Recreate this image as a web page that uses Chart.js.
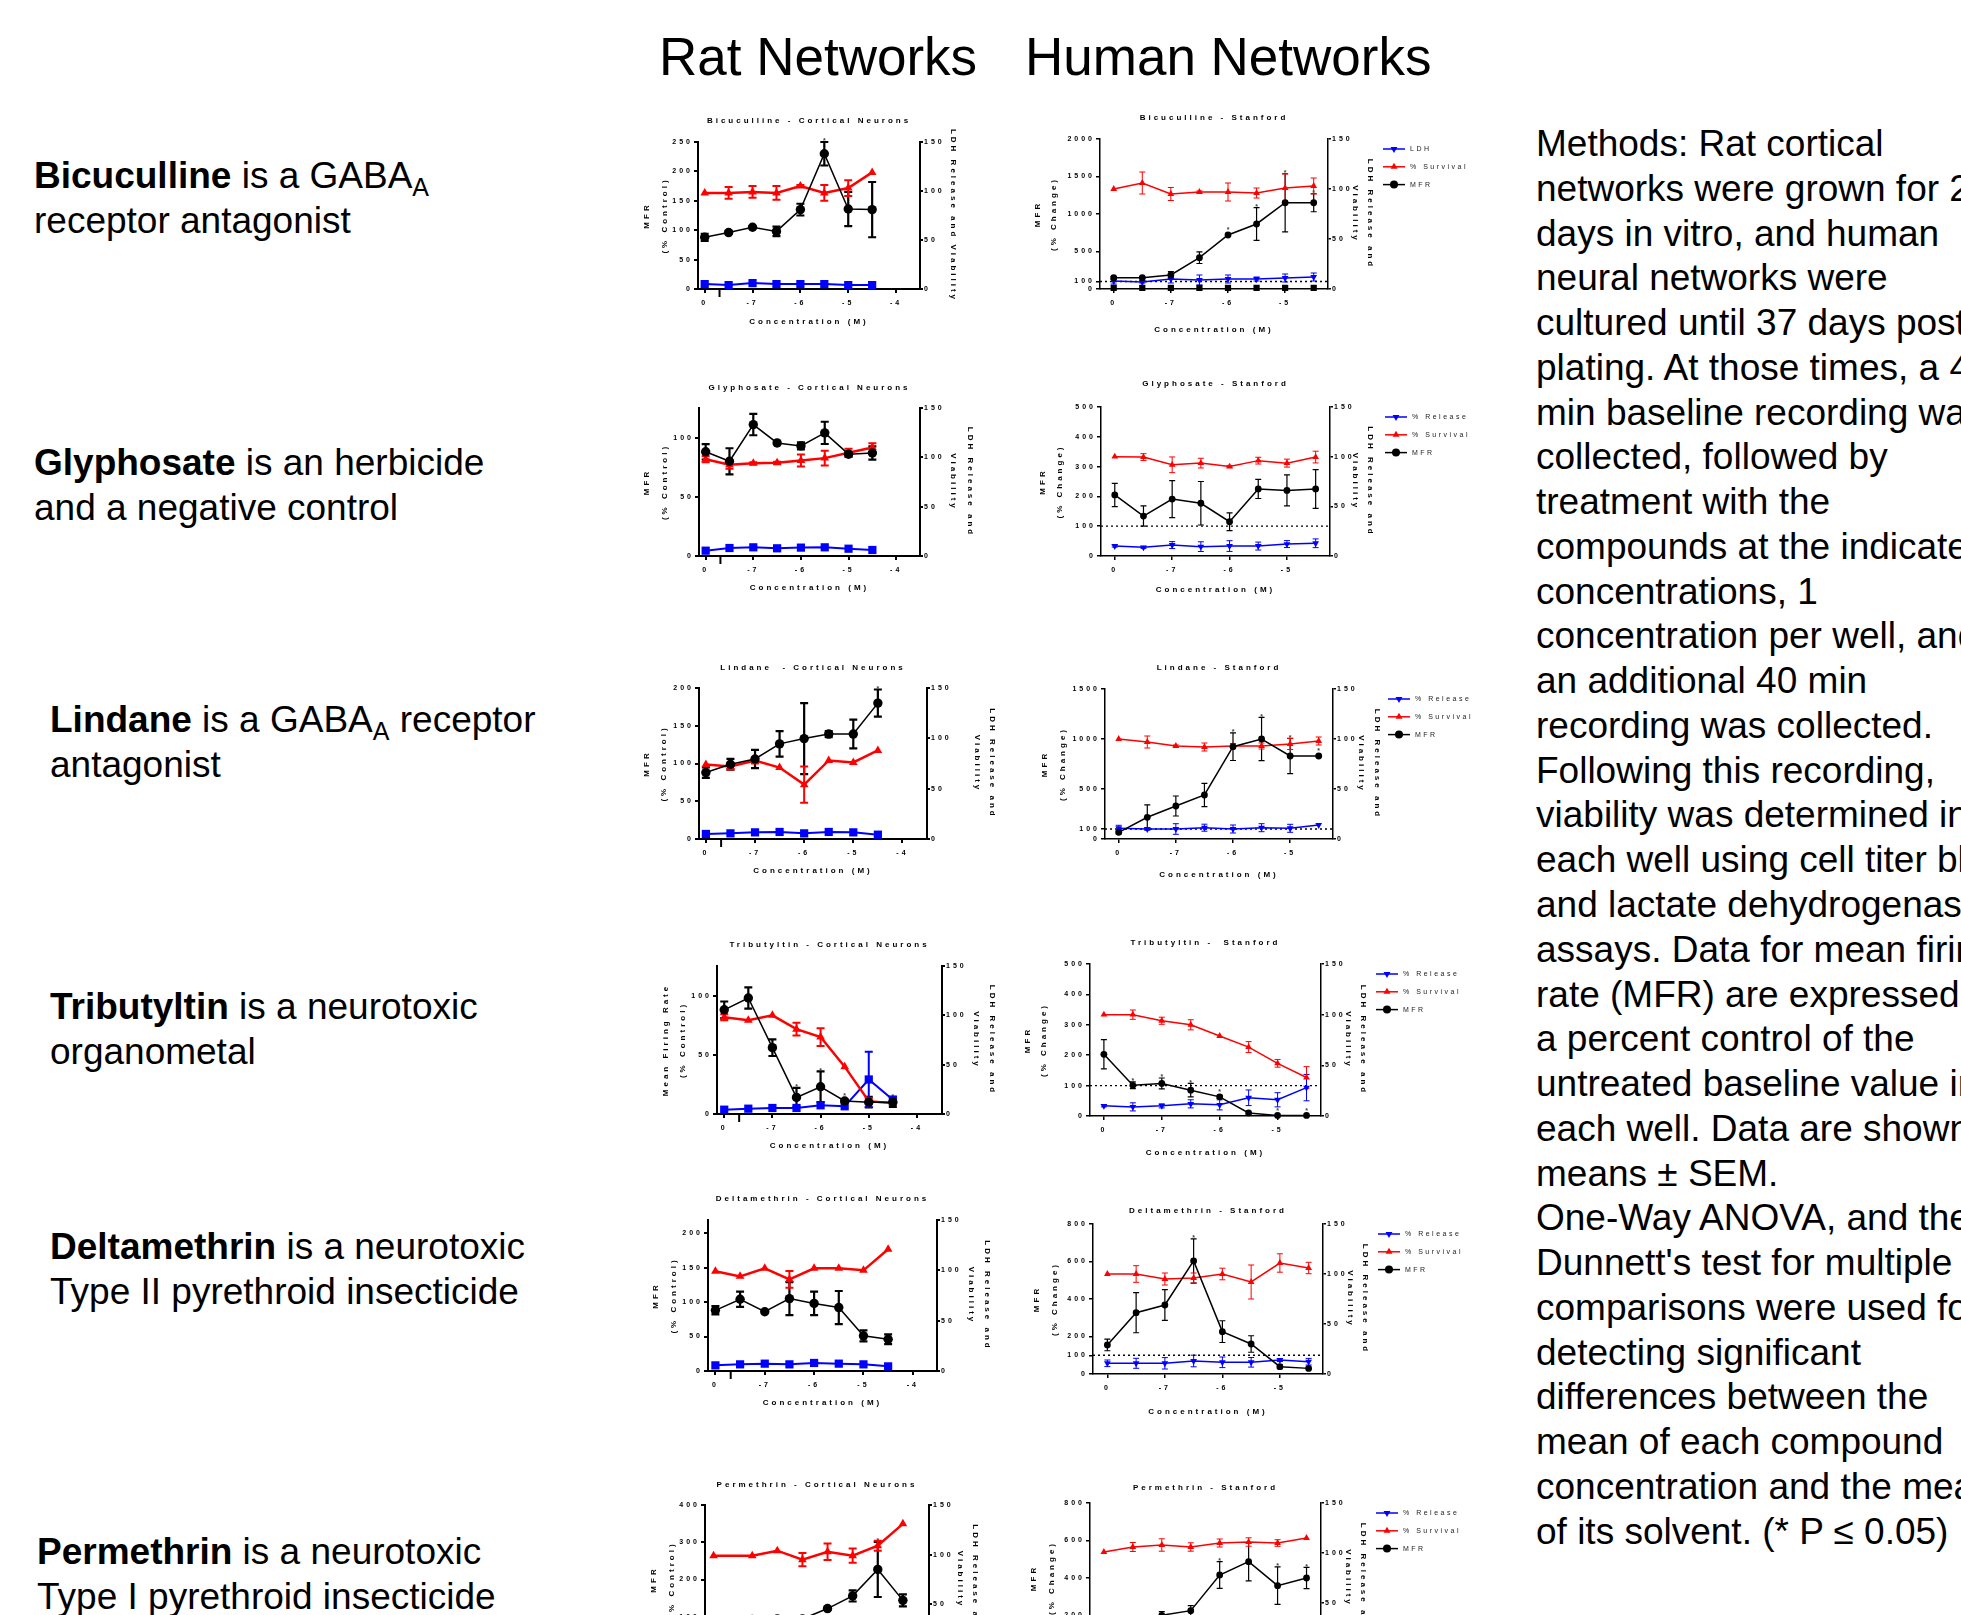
<!DOCTYPE html>
<html>
<head>
<meta charset="utf-8">
<script src="https://cdn.jsdelivr.net/npm/chart.js"></script>
<style>
html, body { margin: 0; padding: 0; background: #fff; }
body { width: 1961px; height: 1615px; overflow: hidden; position: relative; font-family: 'Liberation Sans', Arial, sans-serif; color: #000; }
.hdr { position: absolute; font-size: 53px; line-height: 60px; white-space: nowrap; }
.lbl { position: absolute; font-size: 37px; line-height: 45px; white-space: nowrap; }
.lbl sub { font-size: 25px; line-height: 0; vertical-align: -8px; }
#methods { position: absolute; left: 1536px; top: 122px; font-size: 37px; line-height: 44.76px; white-space: nowrap; }
canvas { position: absolute; }
</style>
</head>
<body>
<div class="hdr" style="left:659px;top:27px">Rat Networks</div>
<div class="hdr" style="left:1025px;top:27px">Human Networks</div>

<div class="lbl" style="left:34px;top:153px"><b>Bicuculline</b> is a GABA<sub>A</sub><br>receptor antagonist</div>
<div class="lbl" style="left:34px;top:440px"><b>Glyphosate</b> is an herbicide<br>and a negative control</div>
<div class="lbl" style="left:50px;top:697px"><b>Lindane</b> is a GABA<sub>A</sub> receptor<br>antagonist</div>
<div class="lbl" style="left:50px;top:984px"><b>Tributyltin</b> is a neurotoxic<br>organometal</div>
<div class="lbl" style="left:50px;top:1224px"><b>Deltamethrin</b> is a neurotoxic<br>Type II pyrethroid insecticide</div>
<div class="lbl" style="left:37px;top:1529px"><b>Permethrin</b> is a neurotoxic<br>Type I pyrethroid insecticide</div>

<div id="methods">Methods: Rat cortical<br>networks were grown for 21<br>days in vitro, and human<br>neural networks were<br>cultured until 37 days post<br>plating. At those times, a 40<br>min baseline recording was<br>collected, followed by<br>treatment with the<br>compounds at the indicated<br>concentrations, 1<br>concentration per well, and<br>an additional 40 min<br>recording was collected.<br>Following this recording,<br>viability was determined in<br>each well using cell titer blue<br>and lactate dehydrogenase<br>assays. Data for mean firing<br>rate (MFR) are expressed as<br>a percent control of the<br>untreated baseline value in<br>each well. Data are shown as<br>means ± SEM.<br>One-Way ANOVA, and then<br>Dunnett's test for multiple<br>comparisons were used for<br>detecting significant<br>differences between the<br>mean of each compound<br>concentration and the mean<br>of its solvent. (* P ≤ 0.05)</div>

<script>
// concentrations (log M) - the untreated control is plotted at the "0" tick
const concRat = [-8, -7.5, -7, -6.5, -6, -5.5, -5, -4.5];
const concRatPerm = [-8.27, -7.5, -7, -6.5, -6, -5.5, -5, -4.5];
const concHum = [-8, -7.5, -7, -6.5, -6, -5.5, -5, -4.5];
const xTicksRat = [-8, -7, -6, -5, -4];
const xTicksRatPerm = [-8.27, -7, -6, -5, -4];
const xTicksHum = [-8, -7, -6, -5];
const rightTicks = [0, 50, 100, 150];

// Bicuculline
const bicRatMfr = [88, 96, 105, 98, 135, 230, 136, 135];
const bicRatMfrErr = [6, 2, 2, 8, 10, 20, 29, 47];
const bicRatSurv = [98, 98, 99, 98, 105, 98, 103, 119];
const bicRatSurvErr = [0, 6, 6, 7, 1, 8, 8, 0];
const bicRatLdh = [5, 4, 6, 5, 5, 5, 4, 4];
const bicRatStars = [5];
const yTicksBicRat = [0, 50, 100, 150, 200, 250];

const bicHumMfr = [151, 151, 187, 418, 720, 867, 1150, 1150];
const bicHumMfrErr = [15, 10, 44, 78, 20, 218, 387, 120];
const bicHumSurv = [100, 106, 95, 97, 97, 96, 101, 103];
const bicHumSurvErr = [0, 11, 6.5, 1, 9, 5, 14, 8];
const bicHumLdh = [8, 7, 10, 9, 10, 10, 11, 12];
const bicHumLdhErr = [3, 1, 4, 5, 4, 2, 4, 4];
const bicHumBase = [15, 15, 15, 15, 15, 15, 15, 15];
const bicHumStars = [4, 5, 6, 7];
const yTicksBicHum = [0, 100, 500, 1000, 1500, 2000];

// Glyphosate
const glyRatMfr = [88, 80, 111, 95.5, 93, 104, 86, 87];
const glyRatMfrErr = [6.5, 11, 9, 1, 3, 9.4, 2, 5.6];
const glyRatSurv = [98, 92.4, 94, 94.5, 96.8, 99.2, 104.6, 110];
const glyRatSurvErr = [3, 4, 1, 1, 6, 7.4, 4, 4.4];
const glyRatLdh = [5.4, 8.1, 8.8, 7.8, 8.5, 8.8, 7.4, 6.1];
const yTicksGlyRat = [0, 50, 100];

const glyHumMfr = [205, 134, 191, 177, 115, 225, 220, 225];
const glyHumMfrErr = [39, 34, 62, 73, 30, 32, 52, 65];
const glyHumSurv = [100, 99.6, 91.8, 93.5, 90, 96, 93.5, 99.6];
const glyHumSurvErr = [0, 3.4, 7.9, 4.9, 1, 3.4, 4, 5.9];
const glyHumLdh = [10, 8.7, 11, 9.4, 10, 10, 12, 12.8];
const glyHumLdhErr = [1, 1, 3.5, 4.9, 5.4, 4, 3.5, 4.4];
const yTicksGlyHum = [0, 100, 200, 300, 400, 500];

// Lindane
const linRatMfr = [88, 99, 106, 126, 133, 139, 139, 180];
const linRatMfrErr = [7, 7, 12, 17, 47, 4, 19, 18];
const linRatSurv = [74, 72, 78, 71, 54, 78, 76, 88];
const linRatSurvErr = [0, 3, 3, 0, 18, 0, 0, 0];
const linRatLdh = [5, 5.6, 6.6, 7, 5.6, 7, 6.6, 4.3];
const linRatStars = [7];
const yTicksLinRat = [0, 50, 100, 150, 200];

const linHumMfr = [67, 217, 330, 440, 923, 1000, 830, 830];
const linHumMfrErr = [15, 125, 100, 117, 138, 217, 177, 10];
const linHumSurv = [100, 97, 93, 92, 93, 93, 95, 98];
const linHumSurvErr = [0, 6, 1, 4, 2.5, 3, 5.5, 4];
const linHumLdh = [10.7, 10, 10, 11.3, 10, 11.3, 10.7, 14];
const linHumLdhErr = [3, 1, 5.3, 3.5, 4, 4, 4, 0];
const linHumStars = [4, 5, 6, 7];
const yTicksLinHum = [0, 100, 500, 1000, 1500];

// Tributyltin
const tbtRatMfr = [88, 98, 56, 14, 23, 11, 10, 10];
const tbtRatMfrErr = [7, 9, 7, 8, 13, 1, 4.5, 4];
const tbtRatSurv = [98, 95, 100, 86, 78, 48, 13, 11];
const tbtRatSurvErr = [3, 0, 0, 6.4, 9, 0, 3, 2];
const tbtRatLdh = [4.4, 5.4, 6.1, 6.1, 8.8, 7.8, 35, 14.5];
const tbtRatLdhErr = [0, 0, 0, 0, 0, 0, 28, 3];
const tbtRatStars = [3, 4, 5, 7];
const yTicksTbtRat = [0, 50, 100];

const tbtHumMfr = [203, 101, 107, 85, 63, 10, 2, 2];
const tbtHumMfrErr = [48, 11, 18, 22, 5, 0, 0, 0];
const tbtHumSurv = [100, 100, 94, 90, 79, 68, 52, 38];
const tbtHumSurvErr = [0, 4.6, 3.5, 5, 0, 5.4, 3.8, 10.7];
const tbtHumLdh = [10, 9, 10, 12, 11, 18, 16, 28];
const tbtHumLdhErr = [1, 4, 2, 4, 5, 7.7, 7, 13];
const tbtHumStars = [1, 2, 3, 4, 6, 7];
const yTicksTbtHum = [0, 100, 200, 300, 400, 500];

// Deltamethrin
const delRatMfr = [88, 104, 86, 105, 98, 92, 51, 46];
const delRatMfrErr = [6, 11, 0, 24, 17, 24, 8, 7];
const delRatSurv = [99, 94, 102, 91, 102, 102, 100, 121];
const delRatSurvErr = [0, 0, 0, 8.3, 0, 0, 0, 0];
const delRatLdh = [5.6, 6.6, 7.3, 6.6, 8, 7.3, 6.6, 4.6];
const yTicksDelRat = [0, 50, 100, 150, 200];

const delHumMfr = [155, 327, 368, 603, 226, 160, 39, 30];
const delHumMfrErr = [31, 107, 82, 118, 58, 44, 10, 0];
const delHumSurv = [100, 100, 95, 96, 100, 92, 111, 106];
const delHumSurvErr = [0, 8.3, 6, 5, 5.8, 17, 9.2, 5.7];
const delHumLdh = [10.7, 10.7, 10.7, 13, 11.7, 11.7, 14, 12.3];
const delHumLdhErr = [3.3, 5, 5.7, 5.8, 5.3, 4.8, 1.5, 3.3];
const delHumStars = [3];
const yTicksDelHum = [0, 100, 200, 400, 600, 800];

// Permethrin
const perRatMfr = [88, 93, 94, 94, 122, 156, 227, 144];
const perRatMfrErr = [5, 3, 3, 3, 3, 15, 74, 16];
const perRatSurv = [99, 99, 104, 95, 103, 99, 109, 131];
const perRatSurvErr = [0, 0, 0, 6.7, 8.3, 7.2, 5, 0];
const perRatLdh = [5, 5, 6, 6, 6, 6, 6, 5];
const perRatStars = [6];
const yTicksPerRat = [0, 100, 200, 300, 400];

const perHumMfr = [150, 160, 201, 226, 416, 487, 359, 400];
const perHumMfrErr = [20, 20, 20, 27, 71, 102, 100, 57];
const perHumSurv = [101, 106, 108, 106, 110, 111, 110, 115];
const perHumSurvErr = [0, 4.5, 6.2, 4.2, 4, 4.2, 3.3, 0];
const perHumLdh = [10, 10, 10, 10, 10, 10, 10, 10];
const perHumStars = [4, 6, 7];
const yTicksPerHum = [0, 100, 200, 400, 600, 800];

// page placement of every panel: plot area (l,r,t,b), title line, axis title lines
const boxes = {
  c1:  {l: 698,  r: 920,  t: 142,  b: 289,  ty: 121,  yx: 647,  lhL: 18,   rx: 953,  lhR: 17,   xy: 322,  xMin: -8.14, xMax: -3.5},
  c2:  {l: 1100, r: 1328, t: 139,  b: 289,  ty: 118,  yx: 1037, lhL: 16.7, rx: 1370, lhR: 15,   xy: 330,  xMin: -8.24, xMax: -4.25},
  c3:  {l: 699,  r: 920,  t: 408,  b: 556,  ty: 388,  yx: 647,  lhL: 18,   rx: 970,  lhR: 17,   xy: 588,  xMin: -8.14, xMax: -3.5},
  c4:  {l: 1101, r: 1330, t: 407,  b: 556,  ty: 384,  yx: 1043, lhL: 17.4, rx: 1370, lhR: 15,   xy: 590,  xMin: -8.24, xMax: -4.25},
  c5:  {l: 699,  r: 927,  t: 688,  b: 839,  ty: 668,  yx: 647,  lhL: 17.3, rx: 992,  lhR: 15,   xy: 871,  xMin: -8.14, xMax: -3.5},
  c6:  {l: 1105, r: 1333, t: 689,  b: 839,  ty: 668,  yx: 1045, lhL: 17.7, rx: 1377, lhR: 16,   xy: 875,  xMin: -8.24, xMax: -4.25},
  c7:  {l: 717,  r: 942,  t: 966,  b: 1114, ty: 945,  yx: 666,  lhL: 17.3, rx: 993,  lhR: 16.6, xy: 1146, xMin: -8.15, xMax: -3.48},
  c8:  {l: 1090, r: 1321, t: 964,  b: 1116, ty: 943,  yx: 1027, lhL: 16.6, rx: 1363, lhR: 15,   xy: 1153, xMin: -8.24, xMax: -4.25},
  c9:  {l: 708,  r: 937,  t: 1220, b: 1371, ty: 1199, yx: 656,  lhL: 18,   rx: 988,  lhR: 16.6, xy: 1403, xMin: -8.15, xMax: -3.51},
  c10: {l: 1093, r: 1323, t: 1224, b: 1374, ty: 1211, yx: 1037, lhL: 17.7, rx: 1365, lhR: 15,   xy: 1412, xMin: -8.25, xMax: -4.25},
  c11: {l: 705,  r: 929,  t: 1505, b: 1654, ty: 1485, yx: 654,  lhL: 17.7, rx: 975,  lhR: 15,   xy: 1687, xMin: -8.44, xMax: -3.98},
  c12: {l: 1090, r: 1321, t: 1503, b: 1653, ty: 1488, yx: 1034, lhL: 17.7, rx: 1363, lhR: 15,   xy: 1690, xMin: -8.24, xMax: -4.25}
};

const ratStyle = {axis: 2, mfrW: 1.5, survW: 2.5, ldhW: 2, circ: 4.7, tri: 5, ldhR: 5.8, errW: 2, cap: 4};
const humStyle = {axis: 1.5, mfrW: 1.5, survW: 1.5, ldhW: 1.5, circ: 3.4, tri: 3.9, ldhR: 3.9, errW: 1, cap: 3};

const RAT_Y = ['MFR', '(% Control)'];
const HUM_Y = ['MFR', '(% Change)'];
const RIGHT_T = ['LDH Release and', 'Viability'];

const panels = [
  {id: 'c1', title: 'Bicuculline - Cortical Neurons', conc: concRat, xTicks: xTicksRat, yMax: 250, yTicks: yTicksBicRat, yTitle: RAT_Y, rTitle: 'LDH Release and Viability',
   mfr: bicRatMfr, mfrErr: bicRatMfrErr, surv: bicRatSurv, survErr: bicRatSurvErr, ldh: bicRatLdh, ldhErr: null, stars: bicRatStars},
  {id: 'c2', human: true, title: 'Bicuculline - Stanford', conc: concHum, xTicks: xTicksHum, yMax: 2000, yTicks: yTicksBicHum, yTitle: HUM_Y, rTitle: RIGHT_T, ldhLabel: 'LDH',
   mfr: bicHumMfr, mfrErr: bicHumMfrErr, surv: bicHumSurv, survErr: bicHumSurvErr, ldh: bicHumLdh, ldhErr: bicHumLdhErr, stars: bicHumStars, base: bicHumBase},
  {id: 'c3', title: 'Glyphosate - Cortical Neurons', conc: concRat, xTicks: xTicksRat, yMax: 125, yTicks: yTicksGlyRat, yTitle: RAT_Y, rTitle: RIGHT_T,
   mfr: glyRatMfr, mfrErr: glyRatMfrErr, surv: glyRatSurv, survErr: glyRatSurvErr, ldh: glyRatLdh, ldhErr: null, stars: []},
  {id: 'c4', human: true, title: 'Glyphosate - Stanford', conc: concHum, xTicks: xTicksHum, yMax: 500, yTicks: yTicksGlyHum, yTitle: HUM_Y, rTitle: RIGHT_T, ldhLabel: '% Release',
   mfr: glyHumMfr, mfrErr: glyHumMfrErr, surv: glyHumSurv, survErr: glyHumSurvErr, ldh: glyHumLdh, ldhErr: glyHumLdhErr, stars: []},
  {id: 'c5', title: 'Lindane  - Cortical Neurons', conc: concRat, xTicks: xTicksRat, yMax: 200, yTicks: yTicksLinRat, yTitle: RAT_Y, rTitle: RIGHT_T,
   mfr: linRatMfr, mfrErr: linRatMfrErr, surv: linRatSurv, survErr: linRatSurvErr, ldh: linRatLdh, ldhErr: null, stars: linRatStars},
  {id: 'c6', human: true, title: 'Lindane - Stanford', conc: concHum, xTicks: xTicksHum, yMax: 1500, yTicks: yTicksLinHum, yTitle: HUM_Y, rTitle: RIGHT_T, ldhLabel: '% Release',
   mfr: linHumMfr, mfrErr: linHumMfrErr, surv: linHumSurv, survErr: linHumSurvErr, ldh: linHumLdh, ldhErr: linHumLdhErr, stars: linHumStars},
  {id: 'c7', title: 'Tributyltin - Cortical Neurons', conc: concRat, xTicks: xTicksRat, yMax: 125, yTicks: yTicksTbtRat, yTitle: ['Mean Firing Rate', '(% Control)'], rTitle: RIGHT_T,
   mfr: tbtRatMfr, mfrErr: tbtRatMfrErr, surv: tbtRatSurv, survErr: tbtRatSurvErr, ldh: tbtRatLdh, ldhErr: tbtRatLdhErr, stars: tbtRatStars},
  {id: 'c8', human: true, title: 'Tributyltin -  Stanford', conc: concHum, xTicks: xTicksHum, yMax: 500, yTicks: yTicksTbtHum, yTitle: HUM_Y, rTitle: RIGHT_T, ldhLabel: '% Release',
   mfr: tbtHumMfr, mfrErr: tbtHumMfrErr, surv: tbtHumSurv, survErr: tbtHumSurvErr, ldh: tbtHumLdh, ldhErr: tbtHumLdhErr, stars: tbtHumStars},
  {id: 'c9', title: 'Deltamethrin - Cortical Neurons', conc: concRat, xTicks: xTicksRat, yMax: 219, yTicks: yTicksDelRat, yTitle: RAT_Y, rTitle: RIGHT_T,
   mfr: delRatMfr, mfrErr: delRatMfrErr, surv: delRatSurv, survErr: delRatSurvErr, ldh: delRatLdh, ldhErr: null, stars: []},
  {id: 'c10', human: true, title: 'Deltamethrin - Stanford', conc: concHum, xTicks: xTicksHum, yMax: 800, yTicks: yTicksDelHum, yTitle: HUM_Y, rTitle: RIGHT_T, ldhLabel: '% Release',
   mfr: delHumMfr, mfrErr: delHumMfrErr, surv: delHumSurv, survErr: delHumSurvErr, ldh: delHumLdh, ldhErr: delHumLdhErr, stars: delHumStars},
  {id: 'c11', title: 'Permethrin - Cortical Neurons', conc: concRatPerm, xTicks: xTicksRatPerm, yMax: 400, yTicks: yTicksPerRat, yTitle: RAT_Y, rTitle: RIGHT_T,
   mfr: perRatMfr, mfrErr: perRatMfrErr, surv: perRatSurv, survErr: perRatSurvErr, ldh: perRatLdh, ldhErr: null, stars: perRatStars},
  {id: 'c12', human: true, title: 'Permethrin - Stanford', conc: concHum, xTicks: xTicksHum, yMax: 800, yTicks: yTicksPerHum, yTitle: HUM_Y, rTitle: RIGHT_T, ldhLabel: '% Release',
   mfr: perHumMfr, mfrErr: perHumMfrErr, surv: perHumSurv, survErr: perHumSurvErr, ldh: perHumLdh, ldhErr: null, stars: perHumStars}
];

Chart.defaults.font.family = "'Liberation Sans', Arial, sans-serif";
Chart.defaults.color = '#000';

// wide tracking like the original Prism export
const spacing = {
  id: 'spacing',
  beforeUpdate(chart) { chart.ctx.letterSpacing = '3px'; },
  beforeDraw(chart) { chart.ctx.letterSpacing = '3px'; }
};

// mean +/- SEM bars, and the * marks above them
const errorBars = {
  id: 'errorBars',
  beforeDatasetsDraw(chart) {
    const ctx = chart.ctx;
    chart.data.datasets.forEach(function (ds, i) {
      if (!ds.errors && !ds.stars) return;
      const ys = chart.scales[ds.yAxisID];
      const meta = chart.getDatasetMeta(i);
      ctx.save();
      ctx.strokeStyle = ds.borderColor;
      ctx.lineWidth = ds.errWidth;
      if (ds.errors) {
        meta.data.forEach(function (pt, j) {
          const e = ds.errors[j];
          if (!e) return;
          const v = ds.data[j].y;
          const y1 = ys.getPixelForValue(v + e);
          const y2 = ys.getPixelForValue(Math.max(v - e, 0));
          ctx.beginPath();
          ctx.moveTo(pt.x, y1); ctx.lineTo(pt.x, y2);
          ctx.moveTo(pt.x - ds.cap, y1); ctx.lineTo(pt.x + ds.cap, y1);
          ctx.moveTo(pt.x - ds.cap, y2); ctx.lineTo(pt.x + ds.cap, y2);
          ctx.stroke();
        });
      }
      if (ds.stars) {
        ctx.fillStyle = '#444';
        ctx.font = "bold 7px 'Liberation Sans', Arial, sans-serif";
        ctx.textAlign = 'center';
        ctx.textBaseline = 'bottom';
        ds.stars.forEach(function (j) {
          const pt = meta.data[j];
          const e = ds.errors ? (ds.errors[j] || 0) : 0;
          const top = Math.min(ys.getPixelForValue(ds.data[j].y + e), pt.y - 4);
          ctx.fillText('*', pt.x + 1.5, top + 3);
        });
      }
      ctx.restore();
    });
  }
};

// break mark on the rat concentration axis
const axisBreak = {
  id: 'axisBreak',
  afterDraw(chart, args, opts) {
    if (opts.at == null) return;
    const ctx = chart.ctx;
    const x = chart.scales.x.getPixelForValue(opts.at);
    const b = chart.chartArea.bottom;
    ctx.save();
    ctx.strokeStyle = '#000';
    ctx.lineWidth = 2;
    ctx.beginPath();
    ctx.moveTo(x, b - 1);
    ctx.lineTo(x, b + 8);
    ctx.stroke();
    ctx.restore();
  }
};

function drawMarker(ctx, shape, x, y, r, rot) {
  ctx.beginPath();
  if (shape === 'circle') {
    ctx.arc(x, y, r, 0, Math.PI * 2);
  } else {
    let a = rot ? Math.PI : 0;
    for (let k = 0; k < 3; k++) {
      const px = x + Math.sin(a) * r, py = y - Math.cos(a) * r;
      if (k === 0) ctx.moveTo(px, py); else ctx.lineTo(px, py);
      a += Math.PI * 2 / 3;
    }
    ctx.closePath();
  }
  ctx.fill();
}

// legend to the right of the human panels
const sideLegend = {
  id: 'sideLegend',
  afterDraw(chart, args, opts) {
    if (!opts.show) return;
    const ctx = chart.ctx;
    const area = chart.chartArea;
    const items = chart.data.datasets.filter(ds => ds.legendText).sort((a, b) => a.legendRank - b.legendRank);
    ctx.save();
    ctx.letterSpacing = '2.5px';
    items.forEach(function (ds, k) {
      const y = area.top + opts.dy + k * opts.gap;
      const x0 = area.right + opts.dx;
      ctx.strokeStyle = ds.borderColor;
      ctx.fillStyle = ds.borderColor;
      ctx.lineWidth = 1.5;
      ctx.beginPath();
      ctx.moveTo(x0, y);
      ctx.lineTo(x0 + 22, y);
      ctx.stroke();
      drawMarker(ctx, ds.pointStyle, x0 + 11, y, 4, ds.pointRotation);
      ctx.fillStyle = '#222';
      ctx.font = "7px 'Liberation Sans', Arial, sans-serif";
      ctx.textAlign = 'left';
      ctx.textBaseline = 'middle';
      ctx.fillText(ds.legendText, x0 + 27, y);
    });
    ctx.restore();
  }
};

function pts(conc, vals) {
  return conc.map((x, i) => ({x: x, y: vals[i]}));
}

function fixSize(prop, size) {
  return function (s) {
    s[prop] = size;
    s.paddingLeft = 0; s.paddingRight = 0; s.paddingTop = 0; s.paddingBottom = 0;
  };
}

function makeChart(c) {
  const g = boxes[c.id];
  const st = c.human ? humStyle : ratStyle;
  const legendPad = c.human ? 150 : 0;
  const left = Math.round(g.yx - g.lhL / 2);
  const top = Math.round(g.ty - 5);
  const axisRight = Math.round(g.rx + g.lhR / 2);
  const bottom = Math.round(g.xy + 5);
  const W = axisRight + legendPad - left;
  const H = bottom - top;
  const wl = g.l - left;
  const wr = axisRight - g.r;
  const xh = bottom - g.b;
  const titlePad = g.t - top - 10;

  const cv = document.createElement('canvas');
  cv.width = W; cv.height = H;
  cv.style.left = left + 'px'; cv.style.top = top + 'px';
  cv.style.width = W + 'px'; cv.style.height = H + 'px';
  document.body.appendChild(cv);

  const datasets = [
    {label: 'MFR', legendText: 'MFR', legendRank: 2, data: pts(c.conc, c.mfr), errors: c.mfrErr, stars: c.stars,
     yAxisID: 'y', borderColor: '#000000', backgroundColor: '#000000', pointBackgroundColor: '#000000', pointBorderColor: '#000000',
     borderWidth: st.mfrW, pointStyle: 'circle', pointRadius: st.circ, pointBorderWidth: 0, errWidth: st.errW + 0.2, cap: st.cap},
    {label: '% Survival', legendText: '% Survival', legendRank: 1, data: pts(c.conc, c.surv), errors: c.survErr,
     yAxisID: 'y2', borderColor: '#ff0000', backgroundColor: '#ff0000', pointBackgroundColor: '#ff0000', pointBorderColor: '#ff0000',
     borderWidth: st.survW, pointStyle: 'triangle', pointRadius: st.tri, pointBorderWidth: 0, errWidth: st.errW, cap: st.cap},
    {label: c.ldhLabel || 'LDH', legendText: c.human ? c.ldhLabel : null, legendRank: 0, data: pts(c.conc, c.ldh), errors: c.ldhErr,
     yAxisID: 'y2', borderColor: '#0000ff', backgroundColor: '#0000ff', pointBackgroundColor: '#0000ff', pointBorderColor: '#0000ff',
     borderWidth: st.ldhW, pointStyle: c.human ? 'triangle' : 'rect', pointRotation: c.human ? 180 : 0, pointRadius: st.ldhR, pointBorderWidth: 0,
     errWidth: st.errW, cap: st.cap}
  ];
  if (c.human) {
    datasets.push({label: 'baseline', data: [{x: g.xMin, y: 100}, {x: g.xMax, y: 100}], yAxisID: 'y',
      borderColor: '#000000', borderWidth: 1.3, borderDash: [2, 3], pointRadius: 0});
  }
  if (c.base) {
    datasets.push({label: 'base', data: pts(c.conc, c.base), yAxisID: 'y', showLine: false,
      backgroundColor: '#000000', pointBackgroundColor: '#000000', pointBorderColor: '#000000', pointStyle: 'rect', pointRadius: 4.4, pointBorderWidth: 0});
  }
  datasets.forEach(ds => { ds.clip = false; ds.tension = 0; });

  const tickFont = {size: 7, weight: 'bold'};
  const titleFont = {size: 8, weight: 'bold', lineHeight: 1.25};

  new Chart(cv, {
    type: 'line',
    data: {datasets: datasets},
    plugins: [spacing, errorBars, axisBreak, sideLegend],
    options: {
      responsive: false,
      animation: false,
      events: [],
      layout: {padding: {left: 0, top: 0, bottom: 0, right: legendPad}},
      plugins: {
        legend: {display: false},
        tooltip: {enabled: false},
        title: {display: true, text: c.title, fullSize: false, color: '#000', font: titleFont, padding: {top: 0, bottom: titlePad}},
        axisBreak: {at: c.human ? null : -7.69},
        sideLegend: {show: !!c.human, dx: 55, dy: 10, gap: 17.8}
      },
      scales: {
        x: {
          type: 'linear', position: 'bottom', min: g.xMin, max: g.xMax,
          afterBuildTicks: s => { s.ticks = c.xTicks.map(v => ({value: v})); },
          afterFit: fixSize('height', xh),
          ticks: {callback: v => (v === c.conc[0] ? '0' : String(v)), autoSkip: false, maxRotation: 0, padding: 5.5, color: '#000', font: tickFont},
          grid: {display: true, drawOnChartArea: false, tickLength: 4, color: '#000', lineWidth: st.axis},
          border: {display: true, color: '#000', width: st.axis},
          title: {display: true, text: 'Concentration (M)', color: '#000', font: titleFont, padding: 0}
        },
        y: {
          type: 'linear', position: 'left', min: 0, max: c.yMax,
          afterBuildTicks: s => { s.ticks = c.yTicks.map(v => ({value: v})); },
          afterFit: fixSize('width', wl),
          ticks: {callback: v => String(v), autoSkip: false, padding: 1, color: '#000', font: tickFont},
          grid: {display: true, drawOnChartArea: false, tickLength: 4, color: '#000', lineWidth: st.axis},
          border: {display: true, color: '#000', width: st.axis},
          title: {display: true, text: c.yTitle, color: '#000', font: {size: 8, weight: 'bold', lineHeight: g.lhL / 8}, padding: 0}
        },
        y2: {
          type: 'linear', position: 'right', min: 0, max: 150,
          afterBuildTicks: s => { s.ticks = rightTicks.map(v => ({value: v})); },
          afterFit: fixSize('width', wr),
          ticks: {callback: v => String(v), autoSkip: false, padding: 1, color: '#000', font: tickFont},
          grid: {display: true, drawOnChartArea: false, tickLength: 3, color: '#000', lineWidth: st.axis},
          border: {display: true, color: '#000', width: st.axis},
          title: {display: true, text: c.rTitle, color: '#000', font: {size: 8, weight: 'bold', lineHeight: g.lhR / 8}, padding: 0}
        }
      }
    }
  });
}

panels.forEach(makeChart);
</script>
</body>
</html>
